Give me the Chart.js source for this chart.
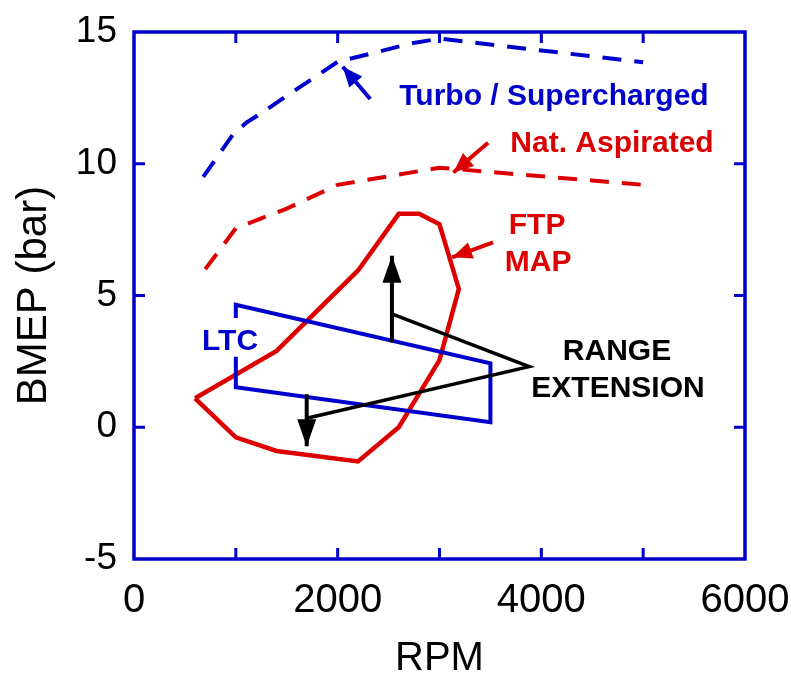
<!DOCTYPE html>
<html>
<head>
<meta charset="utf-8">
<script src="https://cdn.jsdelivr.net/npm/chart.js@4.4.0/dist/chart.umd.min.js"></script>
<style>
  html, body { margin: 0; padding: 0; background: #fff; }
  #wrap { width: 791px; height: 683px; }
</style>
</head>
<body>
<div id="wrap"><canvas id="bmepChart"></canvas></div>
<script>
// ---- data (RPM / BMEP in bar) ----
const turboRpm  = [680, 970, 1100, 1250, 1500, 1750, 2000, 2350, 2700, 3000, 5000];
const turboBmep = [9.5, 11.1, 11.55, 11.92, 12.58, 13.22, 13.87, 14.2, 14.55, 14.75, 13.85];

const naRpm  = [700, 1000, 1500, 2000, 3000, 5000];
const naBmep = [6.0, 7.55, 8.3, 9.2, 9.85, 9.2];

// FTP map (closed outline)
const ftpRpm  = [600, 1000, 1400, 2200, 2600, 3000, 3190, 3000, 2800, 2600, 2200, 1400, 600];
const ftpBmep = [1.1, -0.38, -0.9, -1.3, 0.0, 2.55, 5.25, 7.7, 8.1, 8.1, 5.95, 2.9, 1.1];

// LTC region (left side left open for the label)
const ltcRpm  = [1000, 1000, 3500, 3500, 1000, 1000];
const ltcBmep = [4.15, 4.65, 2.43, 0.19, 1.52, 2.68];

// range extension pointer lines
const rangeRpm  = [2545, 3880, 1696];
const rangeBmep = [4.28, 2.30, 0.34];

// arrows: [fromRpm, fromBmep, toRpm, toBmep]
const arrowsUp   = [2533, 3.22, 2533, 6.51];
const arrowsDown = [1696, 1.25, 1696, -0.72];
const arrowTurbo = [2320, 12.46, 2050, 13.68];
const arrowNA    = [3477, 10.8, 3136, 9.67];
const arrowFTP   = [3526, 7.02, 3124, 6.45];

const xTicks = [0, 2000, 4000, 6000];
const yTicks = [-5, 0, 5, 10, 15];

const BLUE = '#0000cc';
const RED = '#dd0000';
const BLACK = '#000000';
const FONT = "'Liberation Sans', Arial, sans-serif";

function pts(xs, ys) { return xs.map((v, i) => ({x: v, y: ys[i]})); }
function arrowPts(a) { return [{x: a[0], y: a[1]}, {x: a[2], y: a[3]}]; }

function lineSet(data, color, width, dash) {
    return {
        data: data,
        showLine: true,
        borderColor: color,
        borderWidth: width,
        borderDash: dash || [],
        pointRadius: 0,
        fill: false,
        tension: 0
    };
}

// arrow heads and labels
const heads = [
    {a: arrowsUp, color: BLACK, len: 27, w: 19},
    {a: arrowsDown, color: BLACK, len: 27, w: 19},
    {a: arrowTurbo, color: BLUE, len: 20, w: 17},
    {a: arrowNA, color: RED, len: 20, w: 17},
    {a: arrowFTP, color: RED, len: 20, w: 17}
];
const labels = [
    {t: 'Turbo / Supercharged', x: 4124, y: 12.22, c: BLUE},
    {t: 'Nat. Aspirated', x: 4694, y: 10.43, c: RED},
    {t: 'FTP', x: 3958, y: 7.34, c: RED},
    {t: 'MAP', x: 3968, y: 5.93, c: RED},
    {t: 'LTC', x: 943, y: 2.92, c: BLUE},
    {t: 'RANGE', x: 4743, y: 2.54, c: BLACK},
    {t: 'EXTENSION', x: 4753, y: 1.13, c: BLACK}
];

const decor = {
    id: 'decor',
    afterDatasetsDraw(chart) {
        const {ctx, chartArea: a, scales: {x, y}} = chart;
        ctx.save();
        // arrow heads
        heads.forEach(h => {
            const x0 = x.getPixelForValue(h.a[0]), y0 = y.getPixelForValue(h.a[1]);
            const x1 = x.getPixelForValue(h.a[2]), y1 = y.getPixelForValue(h.a[3]);
            const ang = Math.atan2(y1 - y0, x1 - x0);
            const bx = x1 - h.len * Math.cos(ang), by = y1 - h.len * Math.sin(ang);
            const nx = -Math.sin(ang) * h.w / 2, ny = Math.cos(ang) * h.w / 2;
            ctx.fillStyle = h.color;
            ctx.beginPath();
            ctx.moveTo(x1, y1);
            ctx.lineTo(bx + nx, by + ny);
            ctx.lineTo(bx - nx, by - ny);
            ctx.closePath();
            ctx.fill();
        });
        // text
        ctx.font = 'bold 30px ' + FONT;
        ctx.textAlign = 'center';
        ctx.textBaseline = 'alphabetic';
        labels.forEach(l => {
            ctx.fillStyle = l.c;
            ctx.fillText(l.t, x.getPixelForValue(l.x), y.getPixelForValue(l.y));
        });
        // frame + inward ticks on all sides
        ctx.strokeStyle = BLUE;
        ctx.lineWidth = 3.5;
        ctx.strokeRect(a.left, a.top, a.right - a.left, a.bottom - a.top);
        ctx.lineWidth = 3;
        ctx.beginPath();
        for (let v = 1000; v < 6000; v += 1000) {
            const px = x.getPixelForValue(v);
            ctx.moveTo(px, a.bottom); ctx.lineTo(px, a.bottom - 11);
            ctx.moveTo(px, a.top); ctx.lineTo(px, a.top + 11);
        }
        for (let v = 0; v < 15; v += 5) {
            const py = y.getPixelForValue(v);
            ctx.moveTo(a.left, py); ctx.lineTo(a.left + 11, py);
            ctx.moveTo(a.right, py); ctx.lineTo(a.right - 11, py);
        }
        ctx.stroke();
        ctx.restore();
    }
};

const ctx = document.getElementById('bmepChart');
new Chart(ctx, {
    type: 'scatter',
    data: {
        datasets: [
            lineSet(arrowPts(arrowsUp), BLACK, 4),
            lineSet(arrowPts(arrowsDown), BLACK, 4),
            lineSet(pts(rangeRpm, rangeBmep), BLACK, 3.5),
            lineSet(arrowPts(arrowTurbo), BLUE, 4),
            lineSet(arrowPts(arrowNA), RED, 4),
            lineSet(arrowPts(arrowFTP), RED, 4),
            lineSet(pts(ltcRpm, ltcBmep), BLUE, 4),
            lineSet(pts(ftpRpm, ftpBmep), RED, 4.5),
            lineSet(pts(turboRpm, turboBmep), BLUE, 4, [19, 13]),
            lineSet(pts(naRpm, naBmep), RED, 4, [19, 13])
        ]
    },
    options: {
        responsive: true,
        maintainAspectRatio: false,
        animation: false,
        layout: { padding: { left: 0, right: 46, top: 32, bottom: 0 } },
        plugins: { legend: { display: false }, tooltip: { enabled: false } },
        scales: {
            x: {
                type: 'linear',
                min: 0, max: 6000,
                afterBuildTicks: s => { s.ticks = xTicks.map(v => ({value: v})); },
                afterFit: s => { s.height = 124; s.paddingLeft = 0; s.paddingRight = 0; },
                grid: { display: false, drawTicks: false },
                border: { display: false },
                ticks: {
                    color: BLACK, font: { family: FONT, size: 40 }, padding: 18,
                    autoSkip: false, maxRotation: 0,
                    callback: v => String(v)
                },
                title: { display: true, text: 'RPM', color: BLACK, font: { family: FONT, size: 40 }, padding: { top: 0, bottom: 0 } }
            },
            y: {
                type: 'linear',
                min: -5, max: 15,
                afterBuildTicks: s => { s.ticks = yTicks.map(v => ({value: v})); },
                afterFit: s => { s.width = 134; s.paddingTop = 0; s.paddingBottom = 0; },
                grid: { display: false, drawTicks: false },
                border: { display: false },
                ticks: { color: BLACK, font: { family: FONT, size: 37 }, padding: 17, callback: v => String(v) },
                title: { display: true, text: 'BMEP (bar)', color: BLACK, font: { family: FONT, size: 42 }, padding: { top: 9, bottom: 0 } }
            }
        }
    },
    plugins: [decor]
});
</script>
</body>
</html>
